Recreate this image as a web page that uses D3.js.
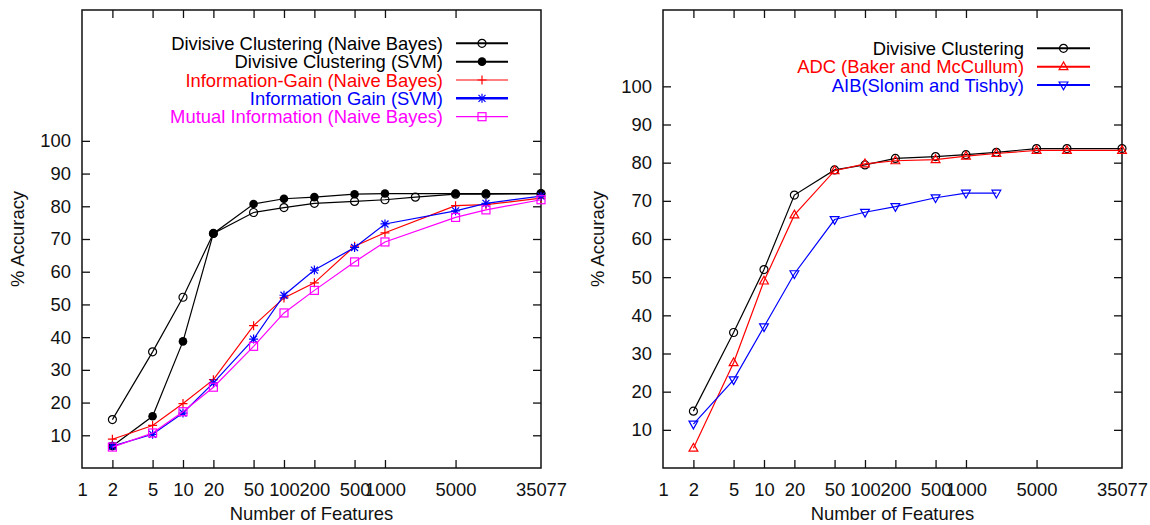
<!DOCTYPE html>
<html>
<head>
<meta charset="utf-8">
<script src="https://cdn.jsdelivr.net/npm/d3@7/dist/d3.min.js"></script>
<style>
	body { margin: 0; background: #ffffff; }
	svg text { font-family: "Liberation Sans", Arial, Helvetica, sans-serif; font-size: 18.4px; }
</style>
</head>
<body>
<div id="chart"></div>
<script>
// X ticks shared by both panels (log scale, 1 .. 35077)
var xTicks = [1, 2, 5, 10, 20, 50, 100, 200, 500, 1000, 5000, 35077];
var yTicks = [10, 20, 30, 40, 50, 60, 70, 80, 90, 100];

// Left panel series
var xDcNb   = [2, 5, 10, 20, 50, 100, 200, 500, 1000, 2000, 5000, 10000, 35077];
var dcNb    = [14.8, 35.5, 52.2, 71.7, 78.1, 79.6, 80.9, 81.5, 82.0, 82.8, 83.7, 83.7, 83.9];
var xOther  = [2, 5, 10, 20, 50, 100, 200, 500, 1000, 5000, 10000, 35077];
var dcSvm   = [6.7, 15.8, 38.7, 71.7, 80.7, 82.3, 82.8, 83.7, 83.9, 83.9, 83.9, 83.9];
var igNb    = [8.8, 13.0, 19.7, 27.0, 43.5, 52.0, 56.6, 67.8, 71.9, 80.2, 80.5, 82.5];
var igSvm   = [6.7, 10.3, 16.8, 26.0, 39.4, 52.8, 60.5, 67.4, 74.6, 78.6, 80.9, 83.1];
var miNb    = [6.4, 10.7, 17.2, 24.7, 37.2, 47.4, 54.3, 63.0, 69.1, 76.6, 78.9, 82.0];

// Right panel series
var xDc     = [2, 5, 10, 20, 50, 100, 200, 500, 1000, 2000, 5000, 10000, 35077];
var dc      = [14.9, 35.5, 52.0, 71.5, 78.1, 79.4, 81.1, 81.6, 82.1, 82.7, 83.7, 83.7, 83.7];
var adc     = [5.2, 27.6, 49.0, 66.3, 77.9, 79.7, 80.5, 80.8, 81.7, 82.4, 83.2, 83.2, 83.2];
var xAib    = [2, 5, 10, 20, 50, 100, 200, 500, 1000, 2000];
var aib     = [11.5, 23.1, 37.0, 50.9, 65.1, 67.0, 68.5, 70.8, 72.0, 72.0];

function zip(xs, ys){
	return xs.map(function(x, i){ return {x: x, y: ys[i]}; });
}

var panels = [
	{
		left: 82, right: 541, top: 10, bottom: 468, yMax: 140,
		yLabelX: 18,
		legendTextX: 443, legendLineX: [456, 508], legendY: 43.3,
		series: [
			{ name: "Divisive Clustering (Naive Bayes)", color: "#000000", marker: "circle", data: zip(xDcNb, dcNb), legendWidth: 2 },
			{ name: "Divisive Clustering (SVM)", color: "#000000", marker: "dot", data: zip(xOther, dcSvm), legendWidth: 2 },
			{ name: "Information-Gain (Naive Bayes)", color: "#ff0000", marker: "plus", data: zip(xOther, igNb), legendWidth: 1.2 },
			{ name: "Information Gain (SVM)", color: "#0000ff", marker: "star", data: zip(xOther, igSvm), legendWidth: 2.5 },
			{ name: "Mutual Information (Naive Bayes)", color: "#ff00ff", marker: "square", data: zip(xOther, miNb), legendWidth: 1.2 }
		]
	},
	{
		left: 663, right: 1122, top: 10, bottom: 468, yMax: 120,
		yLabelX: 598,
		legendTextX: 1024, legendLineX: [1037, 1090], legendY: 48.3,
		series: [
			{ name: "Divisive Clustering", color: "#000000", marker: "circle", data: zip(xDc, dc), legendWidth: 2 },
			{ name: "ADC (Baker and McCullum)", color: "#ff0000", marker: "triangle", data: zip(xDc, adc), legendWidth: 2 },
			{ name: "AIB(Slonim and Tishby)", color: "#0000ff", marker: "triangleDown", data: zip(xAib, aib), legendWidth: 2 }
		]
	}
];

var svg = d3.select("#chart").append("svg")
	.attr("width", 1150)
	.attr("height", 525);

/**
 * Draw one marker glyph at (cx, cy)
 */
function drawMarker(g, type, cx, cy, color){
	var m = g.append("g").attr("transform", "translate(" + cx + "," + cy + ")");
	switch(type){
		case "circle":
			m.append("circle").attr("r", 4).attr("fill", "#ffffff").attr("fill-opacity", 0)
				.attr("stroke", color).attr("stroke-width", 1.2);
			break;
		case "dot":
			m.append("circle").attr("r", 4.3).attr("fill", color);
			break;
		case "plus":
			m.append("path").attr("d", "M-4.5,0H4.5M0,-4.5V4.5")
				.attr("stroke", color).attr("stroke-width", 1.2);
			break;
		case "star":
			m.append("path").attr("d", "M-4.5,0H4.5M0,-4.5V4.5M-3.5,-3.5L3.5,3.5M-3.5,3.5L3.5,-3.5")
				.attr("stroke", color).attr("stroke-width", 1.2);
			break;
		case "square":
			m.append("rect").attr("x", -4).attr("y", -4).attr("width", 8).attr("height", 8)
				.attr("fill", "none").attr("stroke", color).attr("stroke-width", 1.2);
			break;
		case "triangle":
			m.append("path").attr("d", "M0,-4.8L4.4,3L-4.4,3Z")
				.attr("fill", "none").attr("stroke", color).attr("stroke-width", 1.2);
			break;
		case "triangleDown":
			m.append("path").attr("d", "M0,4.8L4.4,-3L-4.4,-3Z")
				.attr("fill", "none").attr("stroke", color).attr("stroke-width", 1.2);
			break;
	}
}

panels.forEach(function(p){
	var x = d3.scaleLog().domain([1, 35077]).range([p.left, p.right]);
	var y = d3.scaleLinear().domain([0, p.yMax]).range([p.bottom, p.top]);
	var g = svg.append("g");

	// Axes: bottom labels, left labels, inward ticks mirrored
	var xAxis = d3.axisBottom(x).tickValues(xTicks).tickFormat(d3.format("d")).tickSizeInner(-8).tickSizeOuter(0).tickPadding(15);
	var xAxisTop = d3.axisTop(x).tickValues(xTicks.slice(1, -1)).tickFormat("").tickSizeInner(-8).tickSizeOuter(0);
	var yAxis = d3.axisLeft(y).tickValues(yTicks).tickSizeInner(-8).tickSizeOuter(0).tickPadding(11);
	var yAxisRight = d3.axisRight(y).tickValues(yTicks).tickFormat("").tickSizeInner(-8).tickSizeOuter(0);

	var gx = g.append("g").attr("transform", "translate(0," + p.bottom + ")").call(xAxis);
	g.append("g").attr("transform", "translate(0," + p.top + ")").call(xAxisTop);
	var gy = g.append("g").attr("transform", "translate(" + p.left + ",0)").call(yAxis);
	g.append("g").attr("transform", "translate(" + p.right + ",0)").call(yAxisRight);

	g.selectAll(".domain").remove();
	g.selectAll(".tick line").attr("stroke", "#111").attr("stroke-width", 1.3);
	g.selectAll(".tick text").attr("fill", "#111").attr("font-size", "18.4px")
		.attr("font-family", "'Liberation Sans', Arial, sans-serif");
	// first tick at the bottom-left corner carries no mark
	gx.selectAll(".tick line").filter(function(d){ return d === 1 || d === 35077; }).remove();

	// Frame
	g.append("rect")
		.attr("x", p.left).attr("y", p.top)
		.attr("width", p.right - p.left).attr("height", p.bottom - p.top)
		.attr("fill", "none").attr("stroke", "#111").attr("stroke-width", 1.5);

	// Axis titles
	g.append("text")
		.attr("x", (p.left + p.right) / 2).attr("y", 520)
		.attr("text-anchor", "middle").attr("fill", "#111")
		.text("Number of Features");
	g.append("text")
		.attr("transform", "translate(" + (p.yLabelX + 6) + "," + ((p.top + p.bottom) / 2) + ") rotate(-90)")
		.attr("text-anchor", "middle").attr("fill", "#111")
		.text("% Accuracy");

	var line = d3.line().x(function(d){ return x(d.x); }).y(function(d){ return y(d.y); });

	// Series lines and markers
	p.series.forEach(function(s){
		g.append("path")
			.datum(s.data)
			.attr("d", line)
			.attr("fill", "none")
			.attr("stroke", s.color)
			.attr("stroke-width", 1.2);
		s.data.forEach(function(d){
			drawMarker(g, s.marker, x(d.x), y(d.y), s.color);
		});
	});

	// Legend
	p.series.forEach(function(s, i){
		var ly = p.legendY + i * 18.35;
		g.append("text")
			.attr("x", p.legendTextX).attr("y", ly + 6.6)
			.attr("text-anchor", "end").attr("fill", s.color)
			.text(s.name);
		g.append("line")
			.attr("x1", p.legendLineX[0]).attr("x2", p.legendLineX[1])
			.attr("y1", ly).attr("y2", ly)
			.attr("stroke", s.color).attr("stroke-width", s.legendWidth);
		drawMarker(g, s.marker, (p.legendLineX[0] + p.legendLineX[1]) / 2, ly, s.color);
	});
});
</script>
</body>
</html>
